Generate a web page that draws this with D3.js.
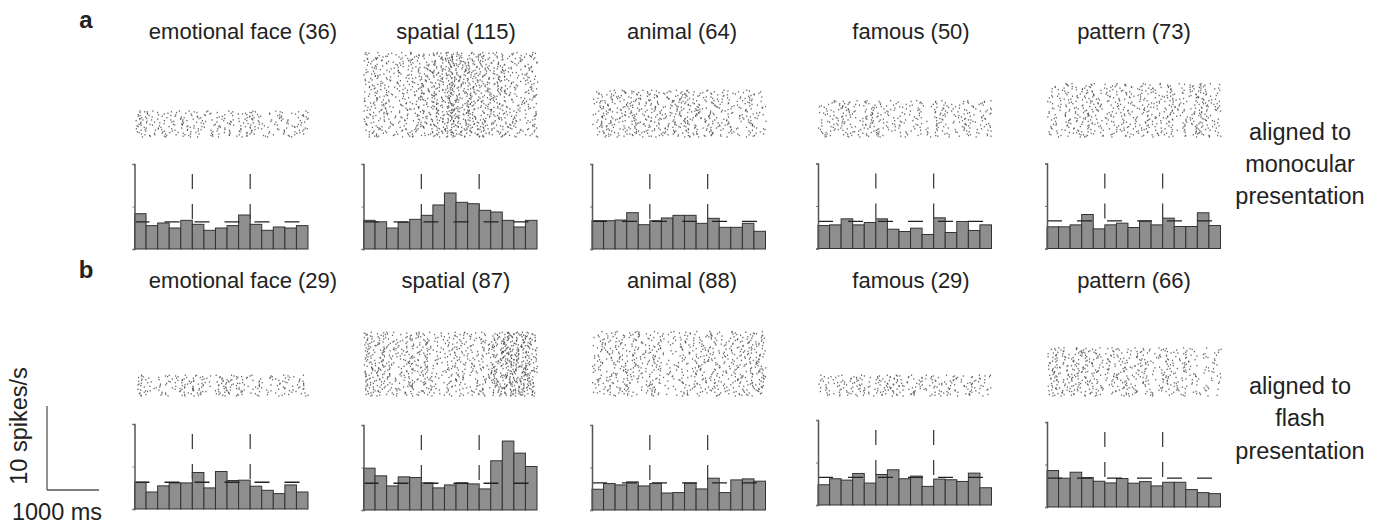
<!DOCTYPE html>
<html><head><meta charset="utf-8">
<script src="https://cdn.jsdelivr.net/npm/d3@7"></script>
<style>
html,body{margin:0;padding:0;background:#fff;}
svg{display:block;}
text{font-family:"Liberation Sans",Arial,Helvetica,sans-serif;fill:#222;}
</style></head>
<body>
<svg id="chart" width="1383" height="525"></svg>
<script>
// ---------------- data ----------------
const categories = ["emotional face", "spatial", "animal", "famous", "pattern"];
const trialsA = [36, 115, 64, 50, 73];
const trialsB = [29, 87, 88, 29, 66];
// firing rate (spikes/s), 15 bins per panel
const ratesA = [
  [4.15, 2.75, 3.06, 2.47, 3.37, 2.90, 2.20, 2.47, 2.75, 4.00, 2.90, 2.20, 2.59, 2.47, 2.75],
  [3.37, 3.20, 2.47, 3.14, 3.49, 3.96, 5.18, 6.59, 5.49, 5.33, 4.55, 4.35, 3.37, 2.59, 3.37],
  [3.33, 3.33, 3.41, 4.27, 2.86, 3.33, 3.65, 3.96, 3.96, 3.02, 3.61, 2.55, 2.55, 3.02, 2.08],
  [2.70, 2.78, 3.49, 2.78, 3.06, 3.49, 2.27, 2.00, 2.39, 1.65, 3.61, 1.88, 3.18, 2.12, 2.78],
  [2.55, 2.55, 2.78, 4.00, 2.31, 2.78, 2.98, 2.47, 3.22, 2.78, 3.57, 2.59, 2.59, 4.20, 2.70]
];
const ratesB = [
  [3.15, 2.00, 2.72, 3.07, 3.07, 4.29, 2.48, 4.41, 3.35, 3.39, 2.68, 2.20, 1.81, 2.83, 2.00],
  [4.92, 4.02, 2.83, 3.90, 3.82, 3.19, 2.60, 2.95, 3.19, 3.07, 2.48, 5.79, 8.11, 6.69, 5.12],
  [2.44, 3.11, 2.95, 3.31, 2.83, 3.11, 2.00, 2.05, 3.15, 2.48, 3.74, 2.05, 3.54, 3.66, 3.39],
  [2.38, 3.09, 2.93, 3.71, 2.58, 3.59, 4.14, 3.09, 3.40, 2.19, 3.05, 2.97, 2.77, 3.75, 2.03],
  [4.29, 3.39, 4.09, 3.46, 3.03, 2.83, 3.35, 2.80, 2.99, 2.48, 2.91, 2.91, 2.05, 1.69, 1.57]
];
const baselineA = [3.20, 3.20, 3.25, 3.20, 3.25];
const baselineB = [3.15, 3.15, 3.19, 3.24, 3.39];
const eventBins = [5, 10];
const yTicks = [0, 5, 10];
const rowLabels = ["a", "b"];
const sideLabels = [["aligned to", "monocular", "presentation"], ["aligned to", "flash", "presentation"]];
const scaleLabels = ["10 spikes/s", "1000 ms"];

// ---------------- layout ----------------
const NB = 15, BIN_S = 0.2;
const colX = [134.5, 363.5, 592, 818, 1047];
const panelW = 173.5;
const titleCx = [243, 456, 682, 911, 1134];
const rows = [
  {label: rowLabels[0], trials: trialsA, rates: ratesA, base: baselineA,
   titleY: 39, labelY: 28, rasterBottom: 137, histTop: [164,164,164,163.5,163.5], histH: 85,
   side: sideLabels[0], sideY: [140, 172, 204]},
  {label: rowLabels[1], trials: trialsB, rates: ratesB, base: baselineB,
   titleY: 288, labelY: 278, rasterBottom: 396, histTop: [424,425,425,420,422], histH: 85,
   side: sideLabels[1], sideY: [394, 426, 459]}
];
const trialPx = 0.74;

const svg = d3.select("#chart");
svg.append("rect").attr("width",1383).attr("height",525).attr("fill","#fff");

// deterministic integer hash -> [0,1) used only to scatter raster ticks inside their bin
function h01(a, b, c, d) {
  let s = (a * 374761393 + b * 668265263 + c * 2246822519 + d * 3266489917) >>> 0;
  s = Math.imul(s ^ (s >>> 13), 1274126177) >>> 0;
  s = (s ^ (s >>> 16)) >>> 0;
  return s / 4294967296;
}

rows.forEach((row, r) => {
  svg.append("text").attr("x", 86).attr("y", row.labelY)
    .attr("text-anchor","middle").attr("font-size", 24).attr("font-weight","bold").text(row.label);

  row.side.forEach((s, i) => {
    svg.append("text").attr("x", 1300).attr("y", row.sideY[i]).attr("text-anchor","middle")
      .attr("font-size", 23.5).text(s);
  });

  categories.forEach((cat, c) => {
    const x0 = colX[c];
    const rates = row.rates[c];
    const g = svg.append("g");
    const x = d3.scaleLinear().domain([0, NB]).range([x0, x0 + panelW]);
    const top = row.histTop[c], bottom = top + row.histH;
    const y = d3.scaleLinear().domain([0, 10]).range([bottom, top]);

    // title
    g.append("text").attr("x", titleCx[c]).attr("y", row.titleY).attr("text-anchor","middle")
      .attr("font-size", 22).text(`${cat} (${row.trials[c]})`);

    // raster (spike counts per trial & bin derived from the rate data)
    const nT = row.trials[c];
    const ty = d3.scaleLinear().domain([0, nT]).range([row.rasterBottom - nT * trialPx, row.rasterBottom]);
    const spikes = [];
    for (let t = 0; t < nT; t++) {
      let phase = h01(r, c, t, 7);
      for (let b = 0; b < NB; b++) {
        phase += rates[b] * BIN_S;
        let j = 0;
        while (phase >= 1) {
          phase -= 1;
          spikes.push({t: t, bx: b + h01(r, c, t * NB + b, j + 11)});
          j++;
        }
      }
    }
    g.append("g").selectAll("rect").data(spikes).join("rect")
      .attr("x", d => x(d.bx)).attr("y", d => ty(d.t))
      .attr("width", 1.2).attr("height", 1.4).attr("fill", "#333").attr("opacity", 0.75);

    // event lines (behind bars)
    g.append("g").selectAll("line").data(eventBins).join("line")
      .attr("x1", d => x(d)).attr("x2", d => x(d))
      .attr("y1", top + 10).attr("y2", bottom)
      .attr("stroke", "#333").attr("stroke-width", 1.2).attr("stroke-dasharray", "15,15");

    // bars
    g.append("g").selectAll("rect").data(rates).join("rect")
      .attr("x", (d, i) => x(i)).attr("width", x(1) - x(0))
      .attr("y", d => y(d)).attr("height", d => y(0) - y(d))
      .attr("fill", "#8e8e8e").attr("stroke", "#333").attr("stroke-width", 1);

    // mean baseline dashed
    g.append("line").attr("x1", x(0)).attr("x2", x(NB))
      .attr("y1", y(row.base[c])).attr("y2", y(row.base[c]))
      .attr("stroke", "#222").attr("stroke-width", 1.3).attr("stroke-dasharray", "15,15");

    // y axis
    const ax = g.append("g").attr("transform", `translate(${x0},0)`)
      .call(d3.axisLeft(y).tickValues(yTicks).tickSize(2).tickFormat(""));
    ax.select(".domain").attr("stroke", "#555").attr("stroke-width", 1.5);
    ax.selectAll(".tick line").attr("stroke", "#777");
  });
});

// scale bar
const sbY = d3.scaleLinear().domain([0, 10]).range([490, 406]);
const sbX = d3.scaleLinear().domain([0, 1000]).range([47, 99]);
svg.append("line").attr("x1", sbX(0)).attr("x2", sbX(0)).attr("y1", sbY(0)).attr("y2", sbY(10))
  .attr("stroke", "#555").attr("stroke-width", 1.3);
svg.append("line").attr("x1", sbX(0)).attr("x2", sbX(1000)).attr("y1", sbY(0)).attr("y2", sbY(0))
  .attr("stroke", "#555").attr("stroke-width", 1.3);
svg.append("text").attr("transform", "translate(27,426) rotate(-90)").attr("text-anchor","middle")
  .attr("font-size", 23.5).text(scaleLabels[0]);
svg.append("text").attr("x", 57).attr("y", 520).attr("text-anchor","middle")
  .attr("font-size", 23.5).text(scaleLabels[1]);
</script>
</body></html>
